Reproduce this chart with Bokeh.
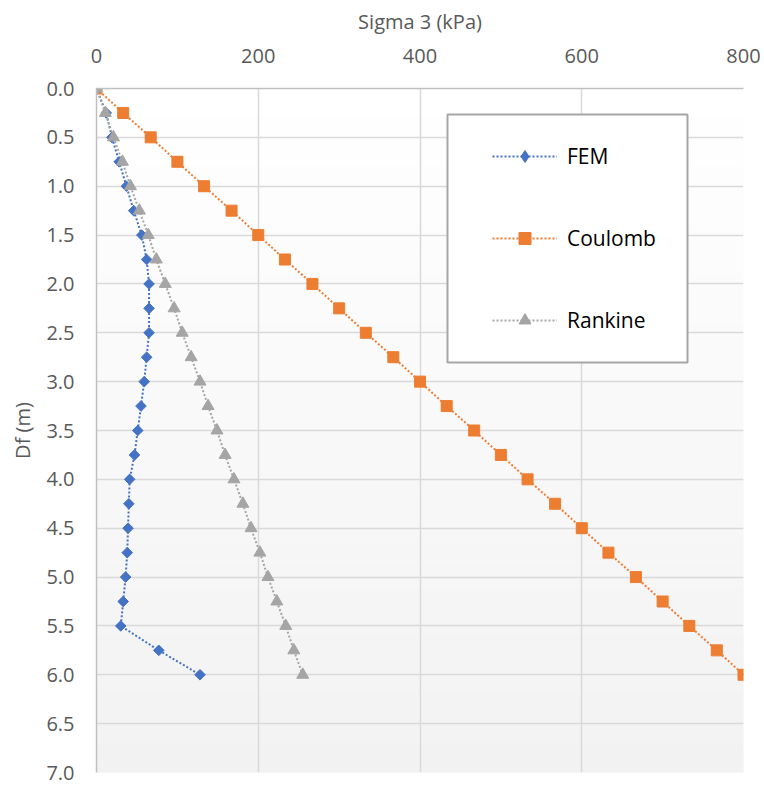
import numpy as np
from bokeh.plotting import figure
from bokeh.models import (Range1d, FixedTicker, NumeralTickFormatter, Legend,
                          LegendItem, BoxAnnotation, ColumnDataSource)
from bokeh.embed import file_html
from bokeh.resources import INLINE

# ---- data ----
depth = [0.0, 0.25, 0.5, 0.75, 1.0, 1.25, 1.5, 1.75, 2.0, 2.25, 2.5, 2.75, 3.0,
         3.25, 3.5, 3.75, 4.0, 4.25, 4.5, 4.75, 5.0, 5.25, 5.5, 5.75, 6.0]
fem = [0, 12, 19, 28, 37, 46, 56, 62, 65, 65, 65, 62, 59,
       55, 51, 47, 41, 40, 39, 38, 36, 33, 30, 77, 128]
coulomb = [0, 33, 67, 100, 133, 167, 200, 233, 267, 300, 333, 367, 400,
           433, 467, 500, 533, 567, 600, 633, 667, 700, 733, 767, 800]
rankine = [0, 11, 21, 32, 42, 53, 64, 74, 85, 96, 106, 117, 128,
           138, 149, 159, 170, 181, 191, 202, 212, 223, 234, 244, 255]
x_ticks = [0, 200, 400, 600, 800]
y_ticks = [0.0, 0.5, 1.0, 1.5, 2.0, 2.5, 3.0, 3.5, 4.0, 4.5, 5.0, 5.5, 6.0, 6.5, 7.0]
x_min, x_max = 0, 800
y_min, y_max = 0.0, 7.0

FONT = "Open Sans"
GRAY_TXT = "#595959"

p = figure(width=764, height=786, output_backend="svg", toolbar_location=None,
           x_range=Range1d(x_min, x_max), y_range=Range1d(y_max, y_min),
           x_axis_location="above",
           min_border_left=96, min_border_right=21, min_border_top=88,
           min_border_bottom=14)
p.outline_line_color = None
p.background_fill_color = "white"
p.border_fill_color = "white"

# plot-area gradient (white at top to light gray at bottom)
n = 70
edges = np.linspace(y_min, y_max, n + 1)
shades = np.linspace(255, 242, n).round().astype(int)
cols = ["#%02x%02x%02x" % (v, v, v) for v in shades]
bg = p.quad(left=x_min, right=x_max, top=edges[:-1], bottom=edges[1:],
            fill_color=cols, line_color=cols, line_width=1)
bg.level = "image"

# grids
p.xgrid.ticker = FixedTicker(ticks=x_ticks)
p.ygrid.ticker = FixedTicker(ticks=y_ticks)
for g in (p.xgrid[0], p.ygrid[0]):
    g.grid_line_color = "#d9d9d9"
    g.grid_line_width = 1.5

# axes
xa = p.xaxis[0]
ya = p.yaxis[0]
xa.ticker = FixedTicker(ticks=x_ticks)
ya.ticker = FixedTicker(ticks=y_ticks)
ya.formatter = NumeralTickFormatter(format="0.0")
xa.axis_label = "Sigma 3 (kPa)"
ya.axis_label = "Df (m)"
for ax in (xa, ya):
    ax.major_tick_out = 0
    ax.major_tick_in = 0
    ax.minor_tick_out = 0
    ax.minor_tick_in = 0
    ax.axis_line_color = "#bfbfbf"
    ax.axis_line_width = 1.5
    ax.major_label_text_font = FONT
    ax.major_label_text_font_size = "20px"
    ax.major_label_text_color = GRAY_TXT
    ax.axis_label_text_font = FONT
    ax.axis_label_text_font_size = "20px"
    ax.axis_label_text_color = GRAY_TXT
    ax.axis_label_text_font_style = "normal"
xa.major_label_standoff = 26
xa.axis_label_standoff = 11
ya.major_label_standoff = 22
ya.axis_label_standoff = 7

# series: (name, values, colour, plot marker, size, angle, legend marker)
series = [
    ("FEM", fem, "#4472C4", "square", 7.5, np.pi / 4, "diamond"),
    ("Coulomb", coulomb, "#ED7D31", "square", 11, 0.0, "square"),
    ("Rankine", rankine, "#A5A5A5", "triangle", 12, 0.0, "triangle"),
]
items = []
for name, vals, col, mk, sz, ang, lmk in series:
    ln = p.line(vals, depth, line_color=col, line_width=2, line_dash="2 2")
    sc = p.scatter(vals, depth, marker=mk, size=sz, angle=ang,
                   fill_color=col, line_color=col)
    if lmk != mk:
        # legend-only glyph: zero size on the plot, drawn at legend size in the key
        src = ColumnDataSource(dict(x=vals[:1], y=depth[:1]))
        dummy = p.scatter(x="x", y="y", source=src, marker=lmk, size=0,
                          fill_color=col, line_color=col)
        dummy.level = "image"
        items.append(LegendItem(label=name, renderers=[ln, dummy]))
    else:
        items.append(LegendItem(label=name, renderers=[ln, sc]))

# legend frame
box = BoxAnnotation(left=447, right=687, top=114, bottom=362,
                    left_units="canvas", right_units="canvas",
                    top_units="canvas", bottom_units="canvas",
                    fill_color="white", fill_alpha=1.0,
                    line_color="#a6a6a6", line_alpha=1.0, line_width=2)
p.add_layout(box)

legend = Legend(items=items, location=(396, 437), orientation="vertical",
                border_line_color=None, background_fill_alpha=0.0,
                padding=0, margin=0, spacing=52, glyph_width=65,
                glyph_height=30, label_height=30, label_standoff=10,
                label_text_font=FONT, label_text_font_size="21px",
                label_text_color="black")
p.add_layout(legend)

open("out.html", "w").write(file_html(p, INLINE))
